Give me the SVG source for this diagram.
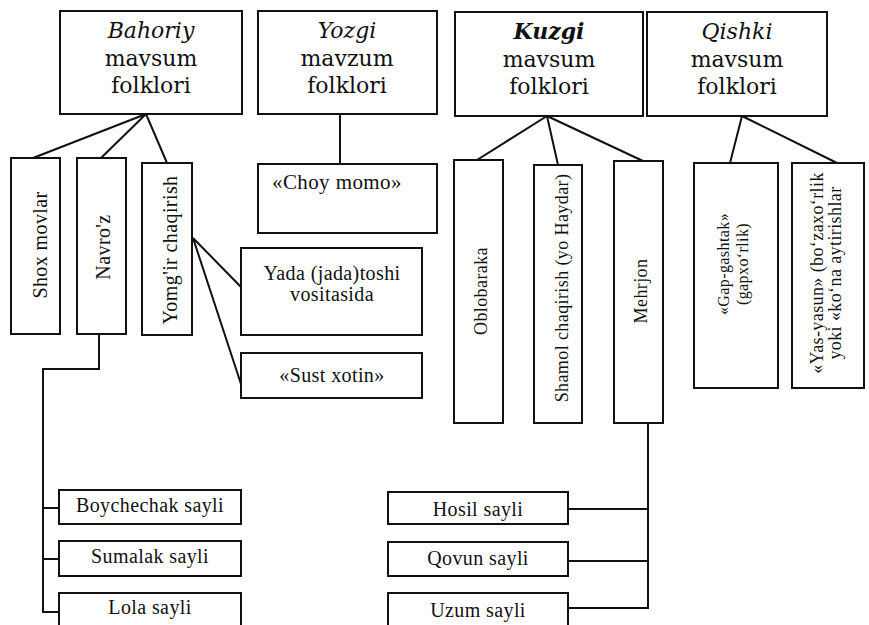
<svg xmlns="http://www.w3.org/2000/svg" width="869" height="625" viewBox="0 0 869 625">
<style>
.b{fill:#fff;stroke:#111;stroke-width:2}
.c{fill:none;stroke:#111;stroke-width:2}
.h{font-family:"DejaVu Serif",serif;font-size:22px;fill:#111;text-anchor:middle}
.hi{font-style:italic}
.t{font-family:"Liberation Serif",serif;font-size:20px;fill:#111;text-anchor:middle;letter-spacing:0.4px}
.s{font-size:18px}
.xs{font-size:16px}
</style>
<rect width="869" height="625" fill="#fff"/>
<g id="connectors">
<path class="c" d="M146,114 L33,158 M146,114 L101,158 M146,114 L167,163"/>
<path class="c" d="M340,114 L340,164"/>
<path class="c" d="M547,116 L477,160 M547,116 L558,165 M547,116 L643,161"/>
<path class="c" d="M742,116 L730,163 M742,116 L837,163"/>
<path class="c" d="M193,238 L241,287 M193,238 L241,384"/>
<path class="c" d="M99,334 L99,369 L43,369 L43,612 L59,612 M43,508 L59,508 M43,559 L59,559"/>
<path class="c" d="M648,423 L648,608 L568,608 M568,509 L648,509 M568,561 L648,561"/>
</g>
<g id="bahoriy">
<rect class="b" x="60" y="11" width="182" height="103"/>
<text class="h hi" x="151" y="38">Bahoriy</text>
<text class="h" x="151" y="66">mavsum</text>
<text class="h" x="151" y="93">folklori</text>
</g>
<g id="yozgi">
<rect class="b" x="258" y="11" width="179" height="103"/>
<text class="h hi" x="347" y="38">Yozgi</text>
<text class="h" x="347" y="66">mavzum</text>
<text class="h" x="347" y="93">folklori</text>
</g>
<g id="kuzgi">
<rect class="b" x="455" y="12" width="188" height="104"/>
<text class="h hi" x="549" y="39" font-weight="bold">Kuzgi</text>
<text class="h" x="549" y="67">mavsum</text>
<text class="h" x="549" y="94">folklori</text>
</g>
<g id="qishki">
<rect class="b" x="647" y="12" width="180" height="104"/>
<text class="h hi" x="737" y="39">Qishki</text>
<text class="h" x="737" y="67">mavsum</text>
<text class="h" x="737" y="94">folklori</text>
</g>
<g id="shox">
<rect class="b" x="11" y="158" width="49" height="176"/>
<text class="t" transform="translate(47,245) rotate(-90)">Shox movlar</text>
</g>
<g id="navroz">
<rect class="b" x="77" y="158" width="49" height="176"/>
<text class="t" transform="translate(110,247) rotate(-90)">Navro'z</text>
</g>
<g id="yomgir">
<rect class="b" x="142" y="163" width="50" height="172"/>
<text class="t" transform="translate(177,250) rotate(-90)">Yomg'ir chaqirish</text>
</g>
<g id="choy">
<rect class="b" x="258" y="164" width="179" height="69"/>
<text class="t" x="272" y="189" style="text-anchor:start;font-size:21px">«Choy momo»</text>
</g>
<g id="yada">
<rect class="b" x="241" y="248" width="181" height="87"/>
<text class="t" x="332" y="280">Yada (jada)toshi</text>
<text class="t" x="332" y="301">vositasida</text>
</g>
<g id="sust">
<rect class="b" x="241" y="353" width="181" height="45"/>
<text class="t" x="332" y="382">«Sust xotin»</text>
</g>
<g id="oblobaraka">
<rect class="b" x="454" y="160" width="49" height="263"/>
<text class="t s" transform="translate(487,291) rotate(-90)">Oblobaraka</text>
</g>
<g id="shamol">
<rect class="b" x="534" y="165" width="48" height="258"/>
<text class="t s" transform="translate(568,288) rotate(-90)">Shamol chaqirish (yo Haydar)</text>
</g>
<g id="mehrjon">
<rect class="b" x="614" y="161" width="49" height="262"/>
<text class="t s" transform="translate(647,291) rotate(-90)">Mehrjon</text>
</g>
<g id="gapgashtak">
<rect class="b" x="694" y="163" width="84" height="225"/>
<text class="t xs" transform="translate(729,264) rotate(-90)">«Gap-gashtak»</text>
<text class="t xs" transform="translate(748,264) rotate(-90)">(gapxo‘rlik)</text>
</g>
<g id="yasyasun">
<rect class="b" x="792" y="163" width="72" height="225"/>
<text class="t s" transform="translate(823,273) rotate(-90)">«Yas-yasun» (bo‘zaxo‘rlik</text>
<text class="t s" transform="translate(841,273) rotate(-90)">yoki «ko‘na aytirishlar</text>
</g>
<g id="boychechak">
<rect class="b" x="59" y="490" width="182" height="34"/>
<text class="t" x="150" y="512">Boychechak sayli</text>
</g>
<g id="sumalak">
<rect class="b" x="59" y="541" width="182" height="35"/>
<text class="t" x="150" y="563">Sumalak sayli</text>
</g>
<g id="lola">
<rect class="b" x="59" y="593" width="182" height="40"/>
<text class="t" x="150" y="614">Lola sayli</text>
</g>
<g id="hosil">
<rect class="b" x="388" y="492" width="180" height="32"/>
<text class="t" x="478" y="516">Hosil sayli</text>
</g>
<g id="qovun">
<rect class="b" x="388" y="542" width="180" height="34"/>
<text class="t" x="478" y="565">Qovun sayli</text>
</g>
<g id="uzum">
<rect class="b" x="388" y="593" width="180" height="40"/>
<text class="t" x="478" y="617">Uzum sayli</text>
</g>
</svg>
